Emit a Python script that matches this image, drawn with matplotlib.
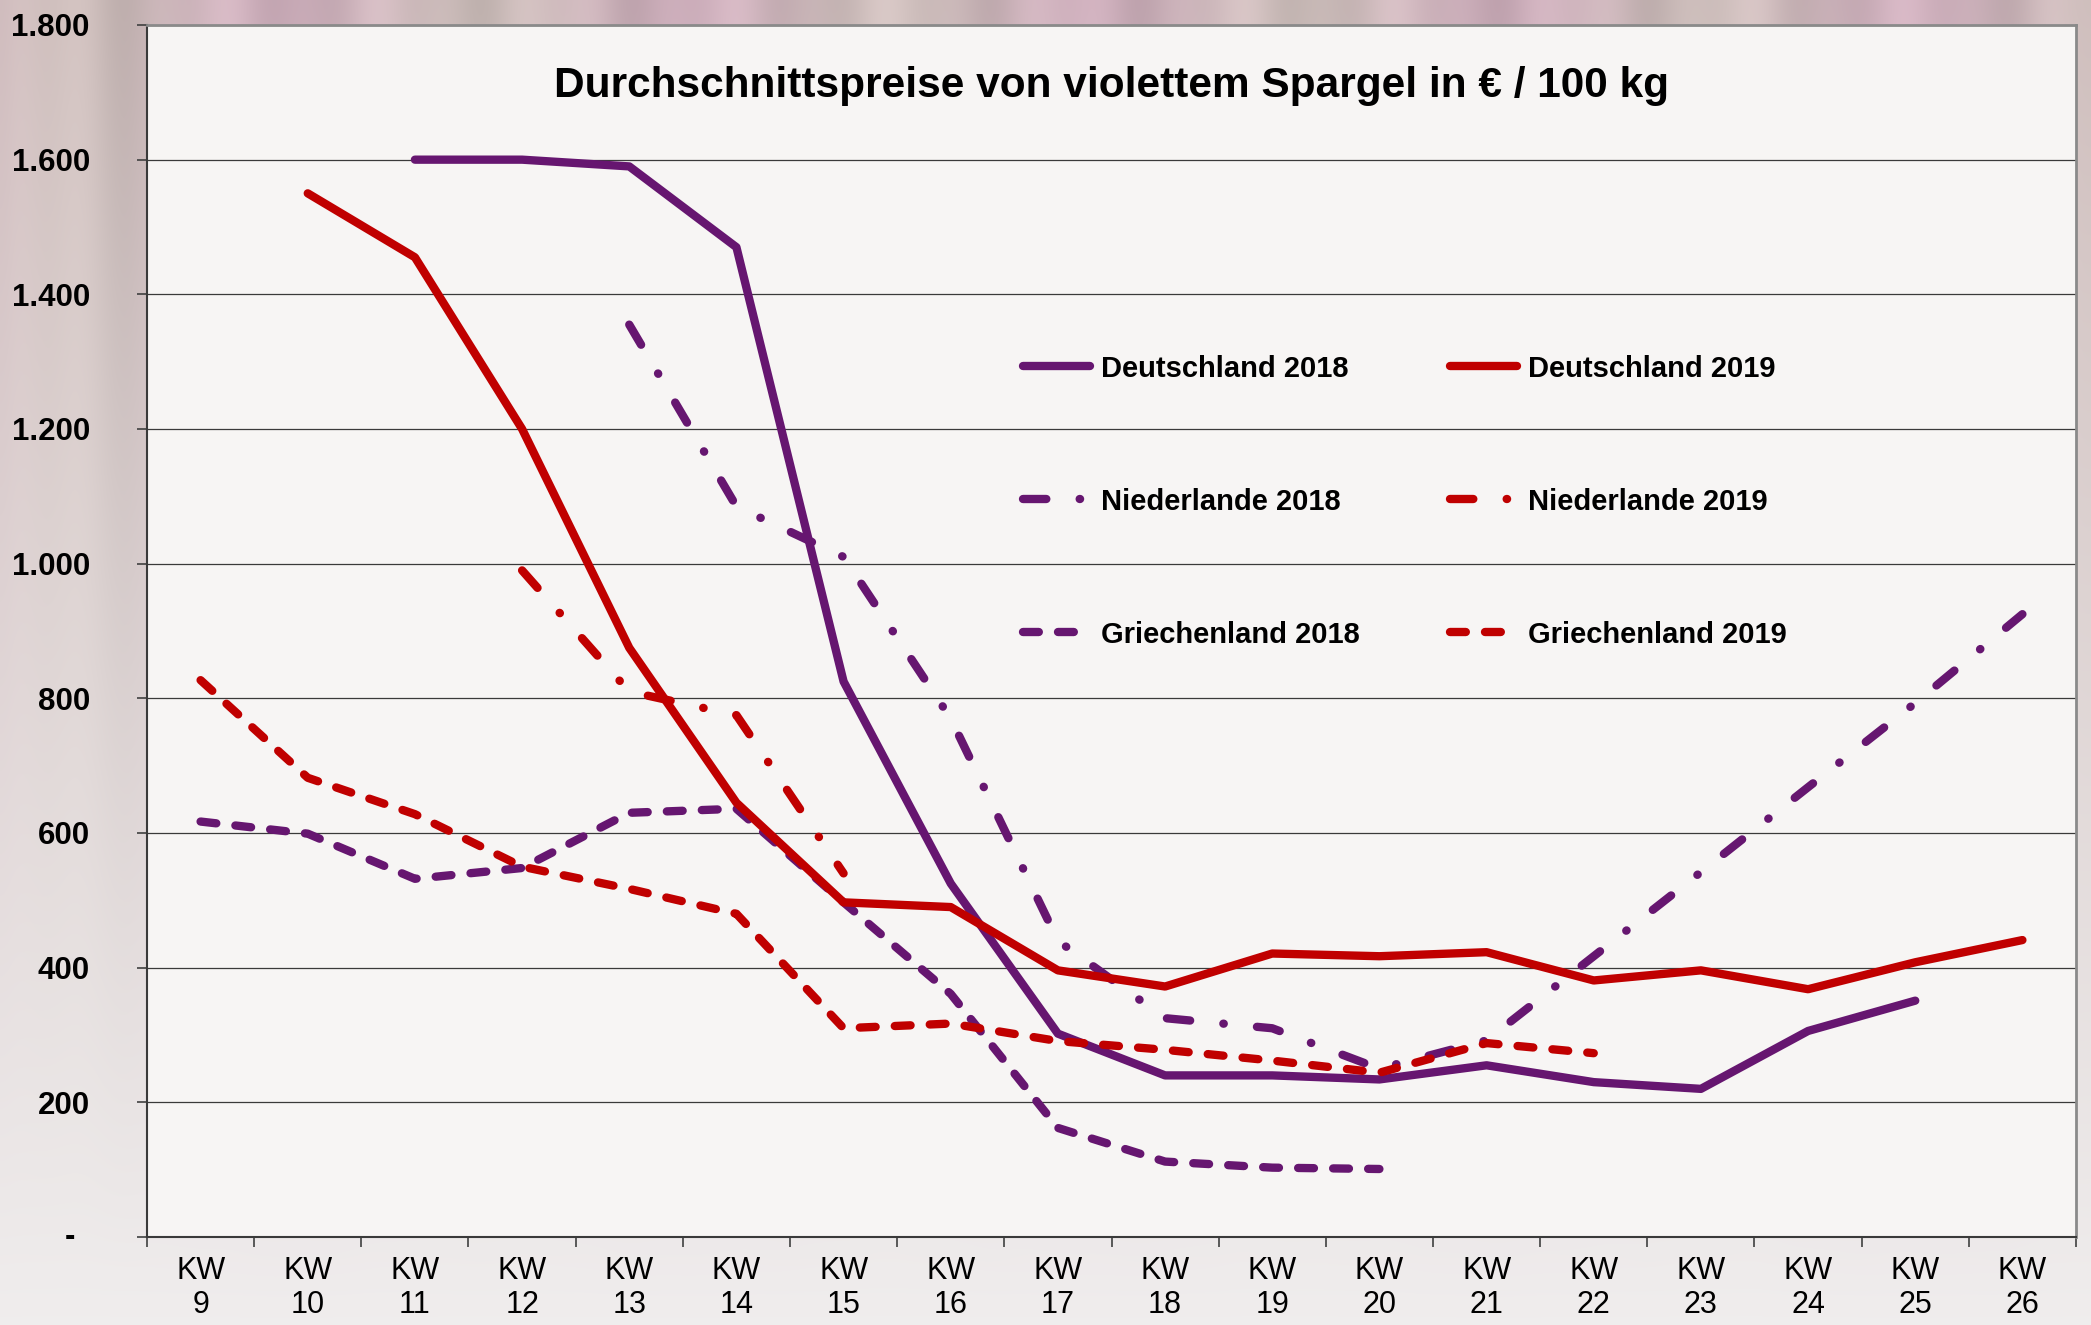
import numpy as np
import matplotlib
matplotlib.use("Agg")
import matplotlib.pyplot as plt

plt.rcParams['font.family'] = ['Liberation Sans', 'DejaVu Sans']

nan = np.nan
weeks = [f"KW\n{w}" for w in range(9, 27)]
deutschland_2018 = [nan, nan, 1600, 1600, 1590, 1470, 825, 525, 302, 240, 240, 234, 255, 230, 220, 306, 351, nan]
deutschland_2019 = [nan, 1550, 1455, 1200, 875, 645, 497, 490, 396, 372, 421, 417, 423, 381, 396, 368, 408, 441]
niederlande_2018 = [nan, nan, nan, nan, 1355, 1085, 1010, 770, 440, 325, 310, 250, 292, 417, 542, 668, 793, 925]
niederlande_2019 = [nan, nan, nan, 990, 810, 775, 540, nan, nan, nan, nan, nan, nan, nan, nan, nan, nan, nan]
griechenland_2018 = [617, 599, 532, 548, 630, 636, 497, 361, 162, 112, 103, 101, nan, nan, nan, nan, nan, nan]
griechenland_2019 = [827, 682, 628, 550, 517, 480, 310, 317, 291, 278, 262, 244, 288, 273, nan, nan, nan, nan]
yticks = [0, 200, 400, 600, 800, 1000, 1200, 1400, 1600, 1800]
ytick_labels = ["", "200", "400", "600", "800", "1.000", "1.200", "1.400", "1.600", "1.800"]

PURPLE = "#661670"
RED = "#c00000"

W, H = 2091, 1325
fig = plt.figure(figsize=(W / 100, H / 100), dpi=100)

# background (photo-like gradient)
bg = fig.add_axes([0, 0, 1, 1], zorder=-10)
gy, gx = np.mgrid[0:133, 0:210]
t = gy / 132.0
top = np.array([0.80, 0.71, 0.73])
bot = np.array([0.94, 0.93, 0.93])
img = top[None, None, :] * (1 - t[..., None]) + bot[None, None, :] * t[..., None]
streak = (0.035 * np.sin(2 * np.pi * gx / 17.0) + 0.02 * np.sin(2 * np.pi * gx / 7.3 + 1.0)) * (1 - t) ** 1.5
img = img + streak[..., None] * np.array([1.0, 0.9, 0.95])
img[:, :, 1] += 0.03 * np.sin(2 * np.pi * gx / 41.0 + 0.5) * (1 - t)
img = np.clip(img, 0, 1)
bg.imshow(img, aspect='auto', extent=[0, 1, 0, 1], interpolation='bicubic')
bg.set_axis_off()

L, R, T, B = 147, 2076, 25, 1237
ax = fig.add_axes([L / W, (H - B) / H, (R - L) / W, (B - T) / H])
ax.set_facecolor("#f7f5f4")

x = np.arange(len(weeks))
lw = 6
ax.plot(x, deutschland_2018, color=PURPLE, lw=lw, solid_capstyle='round', solid_joinstyle='round', label="Deutschland 2018", zorder=3)
ax.plot(x, niederlande_2018, color=PURPLE, lw=lw, dashes=(2.8, 4.0, 0.05, 4.0), dash_capstyle='round', dash_joinstyle='round', label="Niederlande 2018", zorder=3)
ax.plot(x, griechenland_2018, color=PURPLE, lw=lw, dashes=(1.9, 2.3), dash_capstyle='round', dash_joinstyle='round', label="Griechenland 2018", zorder=3)
ax.plot(x, deutschland_2019, color=RED, lw=lw, solid_capstyle='round', solid_joinstyle='round', label="Deutschland 2019", zorder=3)
ax.plot(x, niederlande_2019, color=RED, lw=lw, dashes=(2.8, 4.0, 0.05, 4.0), dash_capstyle='round', dash_joinstyle='round', label="Niederlande 2019", zorder=3)
ax.plot(x, griechenland_2019, color=RED, lw=lw, dashes=(1.9, 2.3), dash_capstyle='round', dash_joinstyle='round', label="Griechenland 2019", zorder=3)

ax.set_xlim(-0.5, len(weeks) - 0.5)
ax.set_ylim(0, 1800)
ax.set_yticks(yticks)
ax.set_yticklabels(ytick_labels, fontsize=22.5, fontweight='bold')
ax.tick_params(axis='y', direction='out', length=7.2, width=1.2, color='#404040', pad=34)
ax.annotate("-", xy=(0, 0), xycoords=('axes fraction', 'data'), xytext=(-52, 0),
            textcoords='offset points', ha='right', va='center', fontsize=22.5, fontweight='bold')

ax.set_xticks(np.arange(-0.5, len(weeks), 1.0))
ax.set_xticklabels([])
ax.tick_params(axis='x', which='major', direction='out', length=7.2, width=1.2, color='#404040')
ax.set_xticks(x, minor=True)
ax.set_xticklabels(weeks, minor=True, fontsize=22, linespacing=1.15)
ax.tick_params(axis='x', which='minor', length=0, pad=14)

ax.yaxis.grid(True, color='#3a3a3a', lw=0.9)
ax.set_axisbelow(True)
for s in ['top', 'right']:
    ax.spines[s].set_color('#8a8a8a')
    ax.spines[s].set_linewidth(2)
for s in ['left', 'bottom']:
    ax.spines[s].set_color('#3a3a3a')
    ax.spines[s].set_linewidth(1.5)

ax.text(0.5, 0.950, "Durchschnittspreise von violettem Spargel in € / 100 kg",
        transform=ax.transAxes, ha='center', va='center', fontsize=30.5, fontweight='bold')

leg = ax.legend(loc='upper left', bbox_to_anchor=(0.454, 0.728), ncol=2, frameon=False,
                prop={'size': 21, 'weight': 'bold'}, handlelength=2.3, handletextpad=0.38,
                labelspacing=3.6, columnspacing=3.1, borderpad=0, borderaxespad=0)

fig.savefig("out.png", dpi=100)
